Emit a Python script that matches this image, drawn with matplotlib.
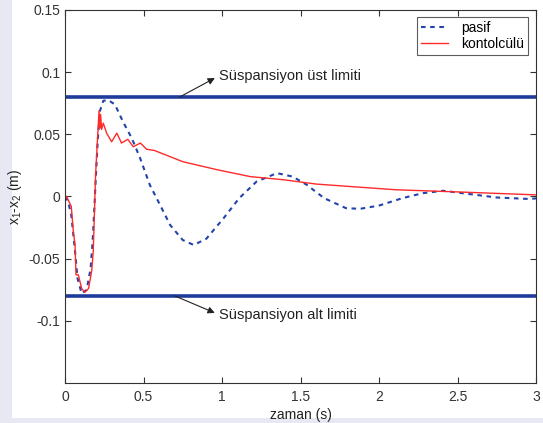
import numpy as np
import matplotlib.pyplot as plt
from matplotlib.patches import Rectangle

plt.rcParams['font.family'] = ['Liberation Sans', 'DejaVu Sans']
plt.rcParams['mathtext.default'] = 'regular'

# pasif (passive) response
t_pasif = [0.0, 0.02, 0.04, 0.064, 0.08, 0.106, 0.138, 0.163, 0.176, 0.187, 0.197,
           0.208, 0.223, 0.244, 0.276, 0.318, 0.37, 0.425, 0.478, 0.54, 0.605, 0.67,
           0.75, 0.82, 0.90, 1.01, 1.11, 1.22, 1.35, 1.45, 1.54, 1.65, 1.79, 1.88,
           2.0, 2.15, 2.28, 2.41, 2.58, 2.75, 2.96, 3.0]
x_pasif = [0.0, -0.004, -0.015, -0.044, -0.066, -0.078, -0.075, -0.058, -0.036, -0.009, 0.017,
           0.044, 0.069, 0.077, 0.0775, 0.074, 0.060, 0.047, 0.031, 0.0094, -0.0067, -0.023,
           -0.035, -0.039, -0.034, -0.0175, -0.0013, 0.012, 0.0188, 0.016, 0.0094, -0.0013, -0.0094, -0.0099,
           -0.0073, -0.0013, 0.0027, 0.0046, 0.0019, -0.0008, -0.002, -0.0015]

# kontolcülü (controlled) response
t_kont = [0.0, 0.01, 0.04, 0.053, 0.064, 0.07, 0.085, 0.106, 0.127, 0.15, 0.17, 0.18,
          0.195, 0.206, 0.217, 0.223, 0.227, 0.233, 0.244, 0.265, 0.297, 0.33, 0.36,
          0.40, 0.435, 0.48, 0.52, 0.57, 0.63, 0.75, 0.97, 1.18, 1.39, 1.6, 1.82,
          2.11, 2.54, 3.0]
x_kont = [0.0, 0.0, -0.008, -0.028, -0.039, -0.063, -0.063, -0.074, -0.077, -0.074, -0.06, -0.044,
          0.018, 0.044, 0.069, 0.055, 0.066, 0.054, 0.059, 0.051, 0.044, 0.051, 0.043,
          0.046, 0.040, 0.043, 0.038, 0.037, 0.034, 0.028, 0.0215, 0.016, 0.0135, 0.010, 0.008,
          0.0054, 0.0035, 0.0013]

ust_limit = 0.08
alt_limit = -0.08

fig = plt.figure(figsize=(5.43, 4.23), dpi=100, facecolor='#e8e8f2')
bg = Rectangle((12 / 543, 5 / 423), 1, 1, transform=fig.transFigure,
               facecolor='white', edgecolor='none', zorder=-10)
fig.add_artist(bg)
ax = fig.add_axes([65 / 543, 40 / 423, 471 / 543, 373 / 423])
ax.set_zorder(1)

ax.axhline(ust_limit, color='#1f3c9c', lw=2.6)
ax.axhline(alt_limit, color='#1f3c9c', lw=2.6)
ax.plot(t_pasif, x_pasif, color='#2244aa', ls=(0, (2.2, 2.2)), lw=1.5, label='pasif')
ax.plot(t_kont, x_kont, color='#ff2a2a', lw=1.0, label='kontolcülü')

# arrows go from the limit line to the label (head at the label side)
arrow = dict(arrowstyle='<|-', color='#222222', lw=0.8, shrinkA=1, shrinkB=0,
             relpos=(0, 0.5), mutation_scale=10)
ax.annotate('Süspansiyon üst limiti', xy=(0.73, ust_limit), xytext=(0.98, 0.097),
            fontsize=10.5, va='center', ha='left', color='#222222', arrowprops=arrow)
ax.annotate('Süspansiyon alt limiti', xy=(0.70, alt_limit), xytext=(0.98, -0.095),
            fontsize=10.5, va='center', ha='left', color='#222222', arrowprops=arrow)

ax.set_xlim(0, 3)
ax.set_ylim(-0.15, 0.15)
ax.set_xticks([0, 0.5, 1, 1.5, 2, 2.5, 3])
ax.set_xticklabels(['0', '0.5', '1', '1.5', '2', '2.5', '3'])
ax.set_yticks([-0.1, -0.05, 0, 0.05, 0.1, 0.15])
ax.set_yticklabels(['-0.1', '-0.05', '0', '0.05', '0.1', '0.15'])
ax.tick_params(direction='in', top=True, right=True, labelsize=10, length=4,
               colors='#333333', labelcolor='#333333')
ax.tick_params(axis='x', pad=5)
for s in ax.spines.values():
    s.set_color('#333333')
    s.set_linewidth(0.8)

ax.set_xlabel('zaman (s)', fontsize=10, labelpad=3, color='#222222')
ax.set_ylabel('x$_1$-x$_2$ (m)', fontsize=10, labelpad=3, color='#222222')

leg = ax.legend(loc='upper right', fontsize=10, frameon=True, fancybox=False,
                handlelength=2.0, borderpad=0.3, labelspacing=0.1, handletextpad=0.9,
                borderaxespad=0, bbox_to_anchor=(0.983, 0.981))
leg.get_frame().set_edgecolor('#333333')
leg.get_frame().set_linewidth(0.8)

fig.savefig('out.png', dpi=100, facecolor=fig.get_facecolor())
